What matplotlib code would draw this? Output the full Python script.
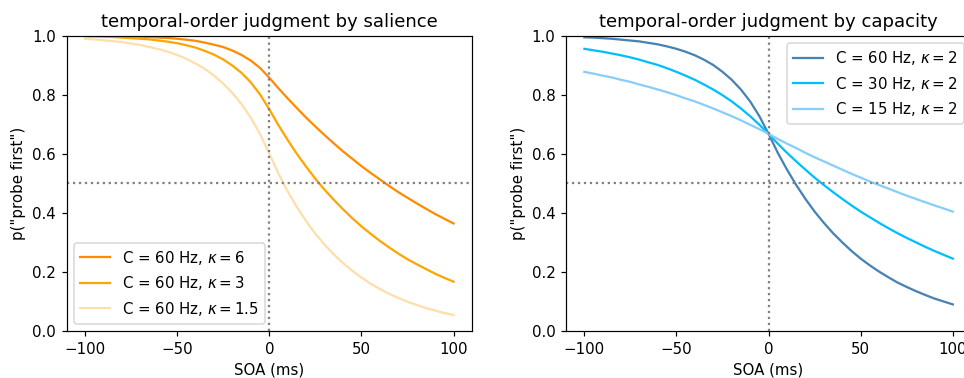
import matplotlib
matplotlib.use("Agg")
import matplotlib.pyplot as plt

# SOA grid (ms) and p("probe first")
soa = [-100, -95, -90, -85, -80, -75, -70, -65, -60, -55, -50, -45, -40, -35, -30, -25, -20, -15, -10, -5,
       0, 5, 10, 15, 20, 25, 30, 35, 40, 45, 50, 55, 60, 65, 70, 75, 80, 85, 90, 95, 100]
soa_ticks = [-100, -50, 0, 50, 100]

# left panel: salience (C = 60 Hz)
p_k6 = [0.999, 0.999, 0.999, 0.998, 0.998, 0.997, 0.996, 0.995, 0.993, 0.992, 0.989, 0.986, 0.982, 0.976,
        0.969, 0.961, 0.949, 0.934, 0.915, 0.890, 0.857, 0.821, 0.787, 0.754, 0.722, 0.692, 0.663, 0.635,
        0.608, 0.583, 0.558, 0.535, 0.513, 0.491, 0.470, 0.451, 0.432, 0.414, 0.396, 0.380, 0.364]
p_k3 = [0.997, 0.997, 0.996, 0.995, 0.993, 0.991, 0.989, 0.987, 0.983, 0.979, 0.974, 0.967, 0.959, 0.948,
        0.935, 0.919, 0.898, 0.873, 0.841, 0.800, 0.750, 0.696, 0.646, 0.599, 0.556, 0.515, 0.478, 0.444,
        0.412, 0.382, 0.354, 0.329, 0.305, 0.283, 0.262, 0.243, 0.226, 0.210, 0.194, 0.180, 0.167]
p_k15 = [0.989, 0.987, 0.984, 0.981, 0.978, 0.973, 0.968, 0.961, 0.954, 0.945, 0.934, 0.921, 0.905, 0.887,
         0.864, 0.837, 0.805, 0.767, 0.721, 0.666, 0.600, 0.532, 0.472, 0.419, 0.371, 0.329, 0.292, 0.259,
         0.230, 0.204, 0.181, 0.160, 0.142, 0.126, 0.112, 0.099, 0.088, 0.078, 0.069, 0.061, 0.054]

# right panel: capacity (kappa = 2)
p_c60 = [0.994, 0.993, 0.991, 0.989, 0.986, 0.983, 0.980, 0.975, 0.970, 0.963, 0.955, 0.945, 0.933, 0.918,
         0.900, 0.877, 0.850, 0.817, 0.777, 0.727, 0.667, 0.603, 0.546, 0.494, 0.447, 0.404, 0.366, 0.331,
         0.300, 0.271, 0.245, 0.222, 0.201, 0.182, 0.164, 0.149, 0.135, 0.122, 0.110, 0.100, 0.090]
p_c30 = [0.955, 0.950, 0.945, 0.939, 0.933, 0.926, 0.918, 0.909, 0.900, 0.889, 0.877, 0.864, 0.850, 0.834,
         0.817, 0.798, 0.777, 0.753, 0.727, 0.698, 0.667, 0.634, 0.603, 0.574, 0.546, 0.519, 0.494, 0.470,
         0.447, 0.425, 0.404, 0.385, 0.366, 0.348, 0.331, 0.315, 0.300, 0.285, 0.271, 0.258, 0.245]
p_c15 = [0.877, 0.871, 0.864, 0.858, 0.850, 0.843, 0.834, 0.826, 0.817, 0.808, 0.798, 0.787, 0.777, 0.765,
         0.753, 0.740, 0.727, 0.713, 0.698, 0.683, 0.667, 0.650, 0.634, 0.619, 0.603, 0.588, 0.574, 0.560,
         0.546, 0.532, 0.519, 0.506, 0.494, 0.482, 0.470, 0.458, 0.447, 0.436, 0.425, 0.415, 0.404]

salience_labels = [r"C = 60 Hz, $\kappa = 6$", r"C = 60 Hz, $\kappa = 3$", r"C = 60 Hz, $\kappa = 1.5$"]
capacity_labels = [r"C = 60 Hz, $\kappa = 2$", r"C = 30 Hz, $\kappa = 2$", r"C = 15 Hz, $\kappa = 2$"]

DPI = 108
fig = plt.figure(figsize=(964 / DPI, 378 / DPI))
ax1 = fig.add_axes([0.0692, 0.1243, 0.4204, 0.7817])
ax2 = fig.add_axes([0.5871, 0.1243, 0.4204, 0.7817])

# --- salience ---
for ys, lab, col in zip([p_k6, p_k3, p_k15], salience_labels, ["darkorange", "orange", "navajowhite"]):
	ax1.plot(soa, ys, color=col, label=lab)
ax1.axhline(0.5, color="gray", linestyle=":")
ax1.axvline(0, color="gray", linestyle=":")
ax1.set_ylim(0, 1)
ax1.set_xticks(soa_ticks)
ax1.set_xlabel("SOA (ms)")
ax1.set_ylabel('p("probe first")')
ax1.set_title("temporal-order judgment by salience")
ax1.legend(loc="lower left")

# --- capacity ---
for ys, lab, col in zip([p_c60, p_c30, p_c15], capacity_labels, ["steelblue", "deepskyblue", "lightskyblue"]):
	ax2.plot(soa, ys, color=col, label=lab)
ax2.axhline(0.5, color="gray", linestyle=":")
ax2.axvline(0, color="gray", linestyle=":")
ax2.set_ylim(0, 1)
ax2.set_xticks(soa_ticks)
ax2.set_xlabel("SOA (ms)")
ax2.set_ylabel('p("probe first")')
ax2.set_title("temporal-order judgment by capacity")
ax2.legend(loc="upper right")

fig.savefig("out.png", dpi=DPI)
